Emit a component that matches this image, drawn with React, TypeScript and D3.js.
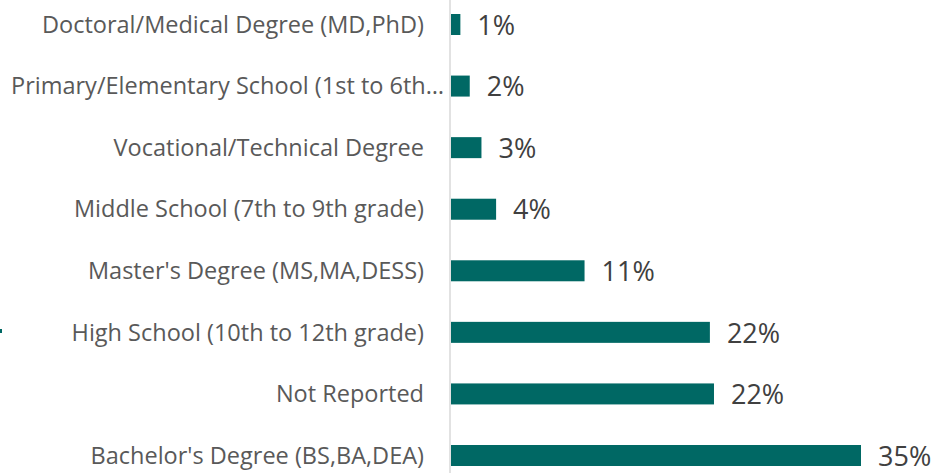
import React from "react";
import * as d3 from "d3";

const categories = [
  "Doctoral/Medical Degree (MD,PhD)",
  "Primary/Elementary School (1st to 6th…",
  "Vocational/Technical Degree",
  "Middle School (7th to 9th grade)",
  "Master's Degree (MS,MA,DESS)",
  "High School (10th to 12th grade)",
  "Not Reported",
  "Bachelor's Degree (BS,BA,DEA)",
];
const values = [0.8, 1.6, 2.6, 3.85, 11.4, 22.1, 22.45, 35.0];

const W = 937;
const H = 473;
const AXIS_X = 450;
const BAR_H = 21;
const BAR_COLOR = "#006864";

export default function App() {
  const x = d3.scaleLinear().domain([0, 35]).range([AXIS_X + 1, 861]);
  const y = d3.scalePoint<string>().domain(categories).range([24.5, 455.5]);
  const fmt = (v: number) => `${Math.round(v)}%`;

  return (
    <svg
      width={W}
      height={H}
      style={{ position: "fixed", left: 0, top: 0, background: "#fff" }}
      fontFamily="'Open Sans', sans-serif"
    >
      <rect x={0} y={329} width={2} height={4} fill={BAR_COLOR} />
      {categories.map((c, i) => {
        const cy = y(c)!;
        const truncated = c.endsWith("…");
        return (
          <g key={c}>
            <rect
              x={x(0)}
              y={cy - BAR_H / 2}
              width={x(values[i]) - x(0)}
              height={BAR_H}
              fill={BAR_COLOR}
            />
            <text
              x={truncated ? 444 : 424}
              y={cy}
              dy="0.35em"
              textAnchor="end"
              fontSize={23.5}
              fill="#595959"
            >
              {c}
            </text>
            <text
              x={x(values[i]) + 17}
              y={cy + 0.5}
              dy="0.36em"
              textAnchor="start"
              fontSize={27}
              fill="#404040"
            >
              {fmt(values[i])}
            </text>
          </g>
        );
      })}
      <line x1={AXIS_X} x2={AXIS_X} y1={0} y2={H} stroke="#d9d9d9" strokeWidth={1.5} />
    </svg>
  );
}
